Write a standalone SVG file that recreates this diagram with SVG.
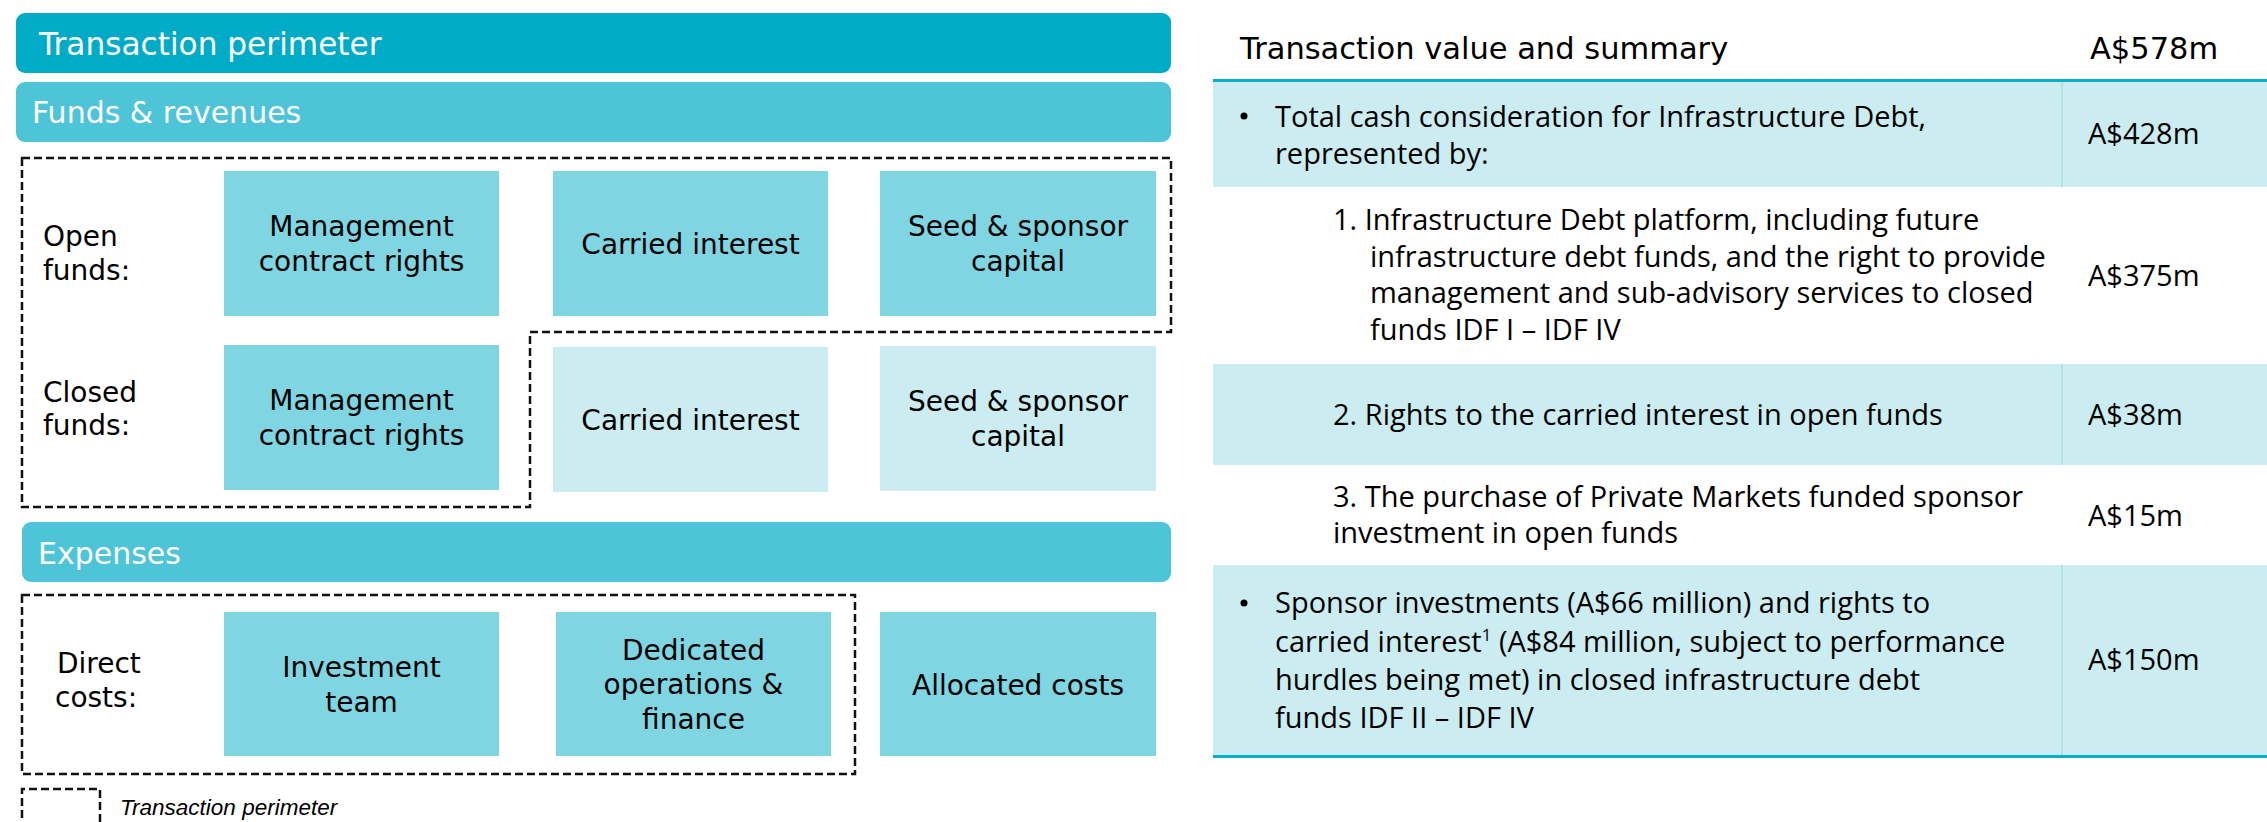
<svg xmlns="http://www.w3.org/2000/svg" width="2267" height="822" viewBox="0 0 2267 822">
<style>
.lbl{font-family:"DejaVu Sans","Liberation Sans",sans-serif;font-size:28px;fill:#000}
.box{font-family:"DejaVu Sans","Liberation Sans",sans-serif;font-size:28px;fill:#000;text-anchor:middle}
.bar{font-family:"DejaVu Sans","Liberation Sans",sans-serif;font-size:30px;fill:#fff}
.hdr{font-family:"DejaVu Sans","Liberation Sans",sans-serif;font-size:30.5px;fill:#000}
.tb{font-family:"Open Sans","Liberation Sans",sans-serif;font-size:29px;fill:#000}
.mid{fill:#7FD5E2}
.lite{fill:#CBECF1}
.dash{fill:none;stroke:#111;stroke-width:2.5;stroke-dasharray:8 4}
.row{fill:#CBECF1}
.div{stroke:#A5DCE7;stroke-width:1.2}
.teal{fill:#0AAFCB}
</style>

<g id="bar-transaction">
<rect x="16" y="13" width="1155" height="60" rx="9" fill="#00ABC7"/>
<text class="bar" x="39" y="55" style="font-size:31.2px">Transaction perimeter</text>
</g>
<g id="bar-funds">
<rect x="16" y="82" width="1155" height="60" rx="9" fill="#4EC4D8"/>
<text class="bar" x="32" y="123">Funds &amp; revenues</text>
</g>

<g id="connectors">
<path class="dash" d="M22,158 H1171 V332 H530 V507 H22 Z"/>
<rect class="dash" x="22" y="595" width="833" height="179"/>
<path class="dash" d="M22,830 V789 H100 V830"/>
</g>

<g id="label-open">
<text class="lbl" x="43" y="246">Open</text>
<text class="lbl" x="43" y="280">funds:</text>
</g>
<g id="label-closed">
<text class="lbl" x="43" y="402">Closed</text>
<text class="lbl" x="43" y="435">funds:</text>
</g>

<g id="open-mgmt">
<rect class="mid" x="224" y="171" width="275" height="145"/>
<text class="box" x="361.5" y="236">Management</text>
<text class="box" x="361.5" y="271">contract rights</text>
</g>
<g id="open-carried">
<rect class="mid" x="553" y="171" width="275" height="145"/>
<text class="box" x="690.5" y="254">Carried interest</text>
</g>
<g id="open-seed">
<rect class="mid" x="880" y="171" width="276" height="145"/>
<text class="box" x="1018" y="236">Seed &amp; sponsor</text>
<text class="box" x="1018" y="271">capital</text>
</g>

<g id="closed-mgmt">
<rect class="mid" x="224" y="345" width="275" height="145"/>
<text class="box" x="361.5" y="410">Management</text>
<text class="box" x="361.5" y="445">contract rights</text>
</g>
<g id="closed-carried">
<rect class="lite" x="553" y="347" width="275" height="145"/>
<text class="box" x="690.5" y="430">Carried interest</text>
</g>
<g id="closed-seed">
<rect class="lite" x="880" y="346" width="276" height="145"/>
<text class="box" x="1018" y="411">Seed &amp; sponsor</text>
<text class="box" x="1018" y="446">capital</text>
</g>

<g id="bar-expenses">
<rect x="22" y="522" width="1149" height="60" rx="9" fill="#4EC4D8"/>
<text class="bar" x="38" y="564">Expenses</text>
</g>

<g id="label-direct">
<text class="lbl" x="57" y="673">Direct</text>
<text class="lbl" x="55" y="707">costs:</text>
</g>
<g id="exp-investment">
<rect class="mid" x="224" y="612" width="275" height="144"/>
<text class="box" x="361.5" y="677">Investment</text>
<text class="box" x="361.5" y="712">team</text>
</g>
<g id="exp-dedicated">
<rect class="mid" x="556" y="612" width="275" height="144"/>
<text class="box" x="693.5" y="660">Dedicated</text>
<text class="box" x="693.5" y="694">operations &amp;</text>
<text class="box" x="693.5" y="729">finance</text>
</g>
<g id="exp-allocated">
<rect class="mid" x="880" y="612" width="276" height="144"/>
<text class="box" x="1018" y="695">Allocated costs</text>
</g>

<g id="legend">
<text x="120" y="815" font-family="Liberation Sans, Arial, sans-serif" font-size="22.5" font-style="italic" fill="#000">Transaction perimeter</text>
</g>

<g id="table-header">
<text class="hdr" x="1240" y="59">Transaction value and summary</text>
<text class="hdr" x="2090" y="59">A$578m</text>
<rect class="teal" x="1213" y="79" width="1054" height="3"/>
</g>

<g id="row-1">
<rect class="row" x="1213" y="82" width="1054" height="105"/>
<line class="div" x1="2062" y1="82" x2="2062" y2="187"/>
<circle cx="1244" cy="116" r="3.5" fill="#000"/>
<text class="tb" x="1275" y="127">Total cash consideration for Infrastructure Debt,</text>
<text class="tb" x="1275" y="164">represented by:</text>
<text class="tb" x="2088" y="144">A$428m</text>
</g>

<g id="row-2">
<text class="tb" x="1333" y="230">1. Infrastructure Debt platform, including future</text>
<text class="tb" x="1370" y="267">infrastructure debt funds, and the right to provide</text>
<text class="tb" x="1370" y="303">management and sub-advisory services to closed</text>
<text class="tb" x="1370" y="340">funds IDF I – IDF IV</text>
<text class="tb" x="2088" y="286">A$375m</text>
</g>

<g id="row-3">
<rect class="row" x="1213" y="364" width="1054" height="101"/>
<line class="div" x1="2062" y1="364" x2="2062" y2="465"/>
<text class="tb" x="1333" y="425">2. Rights to the carried interest in open funds</text>
<text class="tb" x="2088" y="425">A$38m</text>
</g>

<g id="row-4">
<text class="tb" x="1333" y="507">3. The purchase of Private Markets funded sponsor</text>
<text class="tb" x="1333" y="543">investment in open funds</text>
<text class="tb" x="2088" y="526">A$15m</text>
</g>

<g id="row-5">
<rect class="row" x="1213" y="565" width="1054" height="190"/>
<line class="div" x1="2062" y1="565" x2="2062" y2="755"/>
<circle cx="1244" cy="603" r="3.5" fill="#000"/>
<text class="tb" x="1275" y="613">Sponsor investments (A$66 million) and rights to</text>
<text class="tb" x="1275" y="652">carried interest<tspan font-size="17" dy="-11">1</tspan><tspan dy="11"> (A$84 million, subject to performance</tspan></text>
<text class="tb" x="1275" y="690">hurdles being met) in closed infrastructure debt</text>
<text class="tb" x="1275" y="728">funds IDF II – IDF IV</text>
<text class="tb" x="2088" y="670">A$150m</text>
<rect class="teal" x="1213" y="755" width="1054" height="3"/>
</g>
</svg>
